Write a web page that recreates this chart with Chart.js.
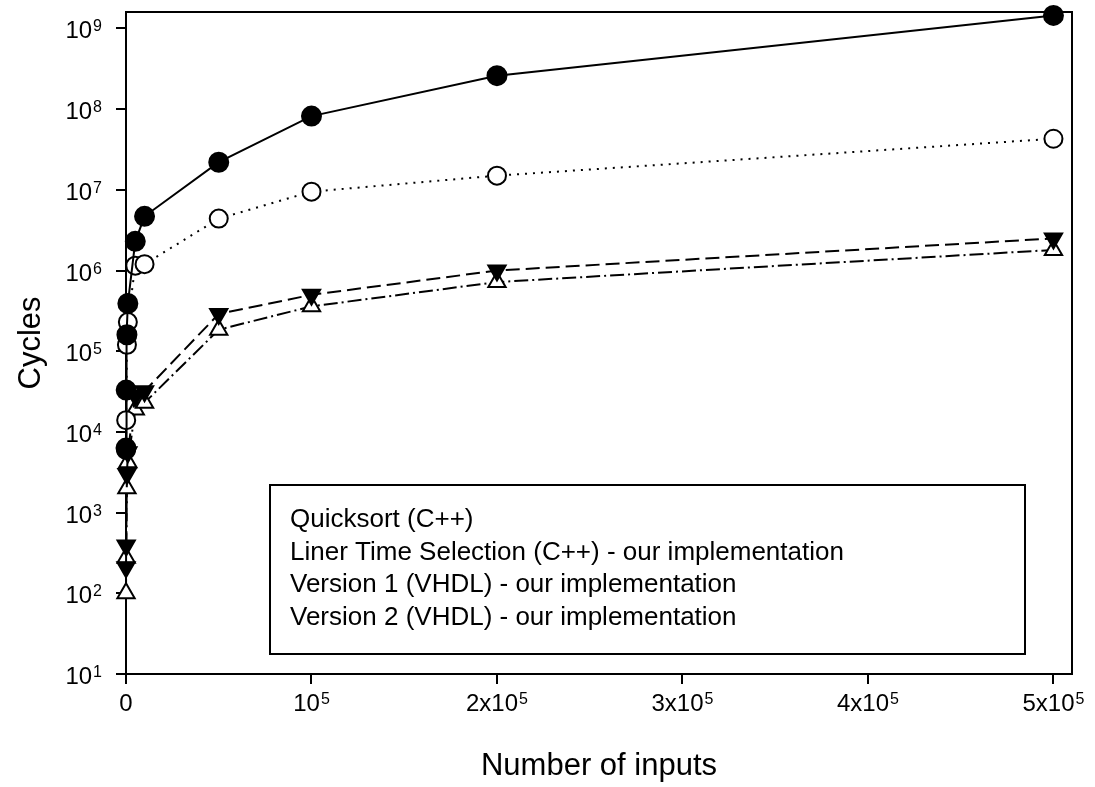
<!DOCTYPE html>
<html>
<head>
<meta charset="utf-8">
<script src="https://cdn.jsdelivr.net/npm/chart.js@4.4.1/dist/chart.umd.min.js"></script>
<style>
  html, body { margin: 0; padding: 0; background: #fff; }
  #wrap { width: 1095px; height: 787px; }
</style>
</head>
<body>
<div id="wrap"><canvas id="chart" width="1095" height="787"></canvas></div>
<script>
// number of inputs (x) and cycle counts (y)
const inputs = [10, 100, 500, 1000, 5000, 10000, 50000, 100000, 200000, 500000];
const quicksortCycles = [6.3e3, 3.3e4, 1.6e5, 3.9e5, 2.3e6, 4.7e6, 2.2e7, 8.2e7, 2.6e8, 1.45e9];
const linearSelectCycles = [6.0e3, 1.4e4, 1.2e5, 2.3e5, 1.15e6, 1.2e6, 4.4e6, 9.5e6, 1.5e7, 4.3e7];
const version1Cycles = [210, 390, 3.0e3, 5.6e3, 2.8e4, 3.2e4, 2.9e5, 5.0e5, 1.0e6, 2.5e6];
const version2Cycles = [100, 275, 2.0e3, 4.2e3, 1.9e4, 2.3e4, 1.85e5, 3.6e5, 7.2e5, 1.8e6];

const seriesLabels = [
  "Quicksort (C++)",
  "Liner Time Selection (C++) - our implementation",
  "Version 1 (VHDL) - our implementation",
  "Version 2 (VHDL) - our implementation",
];

const xTickValues = [0, 1e5, 2e5, 3e5, 4e5, 5e5];
const yTickValues = [1e1, 1e2, 1e3, 1e4, 1e5, 1e6, 1e7, 1e8, 1e9];

const FONT = "'Liberation Sans', Arial, sans-serif";

function toPoints(ys) {
  return inputs.map((x, i) => ({ x: x, y: ys[i] }));
}

// "2x10" + superscript 5 etc.
function xLabelParts(v) {
  if (v === 0) return ["0", ""];
  const m = Math.round(v / 1e5);
  return [m === 1 ? "10" : m + "x10", "5"];
}

function drawPower(ctx, base, exp, x, midY, align) {
  ctx.font = "24px " + FONT;
  const wBase = ctx.measureText(base).width;
  ctx.font = "16px " + FONT;
  const wExp = exp ? ctx.measureText(exp).width + 1 : 0;
  const total = wBase + wExp;
  const left = align === "right" ? x - total : x - total / 2;
  ctx.textAlign = "left";
  ctx.textBaseline = "alphabetic";
  ctx.font = "24px " + FONT;
  ctx.fillText(base, left, midY + 9);
  if (exp) {
    ctx.font = "16px " + FONT;
    ctx.fillText(exp, left + wBase + 1, midY + 2);
  }
}

const framePlugin = {
  id: "frame",
  beforeDatasetsDraw(chart) {
    const { ctx, chartArea: a } = chart;
    ctx.save();
    ctx.strokeStyle = "#000";
    ctx.lineWidth = 2;
    ctx.strokeRect(a.left, a.top, a.right - a.left, a.bottom - a.top);
    ctx.restore();
  },
  afterDraw(chart) {
    const { ctx } = chart;
    const xs = chart.scales.x;
    const ys = chart.scales.y;
    ctx.save();
    ctx.fillStyle = "#000";
    ys.ticks.forEach((t) => {
      const py = ys.getPixelForValue(t.value);
      drawPower(ctx, "10", String(Math.round(Math.log10(t.value))), 102, py + 1, "right");
    });
    xs.ticks.forEach((t) => {
      const px = xs.getPixelForValue(t.value);
      const parts = xLabelParts(t.value);
      drawPower(ctx, parts[0], parts[1], px, 702, "center");
    });

    // legend box (text only, no symbols)
    ctx.strokeStyle = "#000";
    ctx.lineWidth = 2;
    ctx.strokeRect(270, 485, 755, 169);
    ctx.font = "26px " + FONT;
    ctx.textAlign = "left";
    ctx.textBaseline = "middle";
    chart.data.datasets.forEach((ds, i) => {
      ctx.fillText(ds.label, 290, 520 + i * 32.5);
    });
    ctx.restore();
  },
};

const common = {
  borderColor: "#000",
  borderWidth: 2,
  pointBorderColor: "#000",
  pointBorderWidth: 2,
  tension: 0,
  clip: false,
  showLine: true,
};

new Chart(document.getElementById("chart"), {
  type: "scatter",
  data: {
    datasets: [
      {
        ...common,
        label: seriesLabels[0],
        data: toPoints(quicksortCycles),
        pointStyle: "circle",
        pointRadius: 9.5,
        pointBackgroundColor: "#000",
      },
      {
        ...common,
        label: seriesLabels[1],
        data: toPoints(linearSelectCycles),
        borderDash: [2, 6],
        pointStyle: "circle",
        pointRadius: 9,
        pointBackgroundColor: "#fff",
      },
      {
        ...common,
        label: seriesLabels[2],
        data: toPoints(version1Cycles),
        borderDash: [14, 6],
        pointStyle: "triangle",
        pointRotation: 180,
        pointRadius: 10,
        pointBackgroundColor: "#000",
      },
      {
        ...common,
        label: seriesLabels[3],
        data: toPoints(version2Cycles),
        borderDash: [14, 4, 2, 4],
        pointStyle: "triangle",
        pointRadius: 10,
        pointBackgroundColor: "#fff",
      },
    ],
  },
  options: {
    responsive: false,
    animation: false,
    layout: { padding: { top: 9, right: 23, left: 0, bottom: 0 } },
    scales: {
      x: {
        type: "linear",
        min: 0,
        max: 510000,
        afterBuildTicks: (scale) => {
          scale.ticks = xTickValues.map((v) => ({ value: v }));
        },
        afterFit: (scale) => {
          scale.height = 113;
        },
        ticks: { display: false },
        grid: {
          display: true,
          drawOnChartArea: false,
          drawTicks: true,
          tickLength: 10,
          color: "#000",
          lineWidth: 2,
        },
        border: { display: false },
        title: {
          display: true,
          text: "Number of inputs",
          color: "#000",
          font: { family: FONT, size: 31 },
          padding: { top: 0, bottom: 2 },
        },
      },
      y: {
        type: "logarithmic",
        min: 10,
        max: 1.6e9,
        afterBuildTicks: (scale) => {
          scale.ticks = yTickValues.map((v) => ({ value: v }));
        },
        afterFit: (scale) => {
          scale.width = 126;
        },
        ticks: { display: false },
        grid: {
          display: true,
          drawOnChartArea: false,
          drawTicks: true,
          tickLength: 10,
          color: "#000",
          lineWidth: 2,
        },
        border: { display: false },
        title: {
          display: true,
          text: "Cycles",
          color: "#000",
          font: { family: FONT, size: 31 },
          padding: { top: 13, bottom: 0 },
        },
      },
    },
    plugins: {
      legend: { display: false },
      tooltip: { enabled: false },
    },
  },
  plugins: [framePlugin],
});
</script>
</body>
</html>
